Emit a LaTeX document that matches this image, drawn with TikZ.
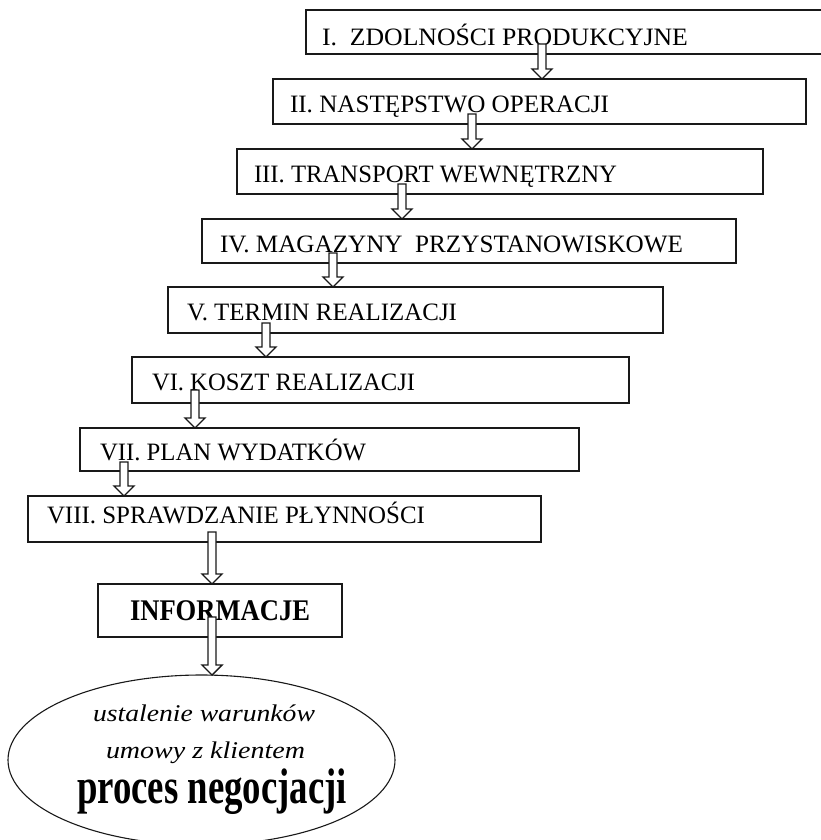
\documentclass[tikz,border=0pt]{standalone}
\usepackage{fontspec}
\setmainfont{Liberation Serif}
\usetikzlibrary{shapes.geometric,calc}
\newcommand\fitw[2]{\resizebox{#1pt}{\height}{#2}}
% #1 shaft offset above lower edge of upper node, #2 from node, #3 to node, #4 x-coordinate
\newcommand\barrow[4]{%
  \draw[barr] let \p1=([yshift=#1]#2.south -| #4), \p2=(#3.north -| #4) in
    (\x1-4pt,\y1) -- (\x1+4pt,\y1) -- (\x1+4pt,\y2+10pt) -- (\x1+10pt,\y2+10pt)
    -- (\x2,\y2) -- (\x1-10pt,\y2+10pt) -- (\x1-4pt,\y2+10pt) -- cycle;}
\tikzset{
  box/.style={draw=black!90, line width=1.6pt, rectangle, inner sep=0pt, outer sep=0pt, anchor=north west},
  lbl/.style={inner sep=0pt, outer sep=0pt, anchor=base west, font=\fontsize{25}{30}\selectfont},
  barr/.style={draw=black!90, line width=1.4pt, fill=white, line join=miter},
  ell/.style={draw=black!90, line width=1.1pt, ellipse, inner sep=0pt, outer sep=0pt},
}
\begin{document}
\begin{tikzpicture}[x=1pt,y=-1pt]
\useasboundingbox[fill=white] (0,0) rectangle (821,840);
\clip (0,0) rectangle (821,840);
% boxes
\node[box, minimum width=524pt, minimum height=44pt] (b1) at (306,10) {};
\node[box, minimum width=533pt, minimum height=45pt] (b2) at (273,79) {};
\node[box, minimum width=526pt, minimum height=45pt] (b3) at (237,149) {};
\node[box, minimum width=534pt, minimum height=44pt] (b4) at (202,219) {};
\node[box, minimum width=495pt, minimum height=46pt] (b5) at (168,287) {};
\node[box, minimum width=497pt, minimum height=46pt] (b6) at (132,357) {};
\node[box, minimum width=499pt, minimum height=43pt] (b7) at (80,428) {};
\node[box, minimum width=513pt, minimum height=46pt] (b8) at (28,496) {};
\node[box, minimum width=244pt, minimum height=53pt] (b9) at (98,584) {};
\node[ell, minimum width=387pt, minimum height=170pt] (e) at (201.5,760) {};
% texts
\node[lbl] (t1) at (322,46) {\fitw{366}{I.\ \ ZDOLNOŚCI PRODUKCYJNE}};
\node[lbl] (t2) at (290,113) {\fitw{319}{II.\ NASTĘPSTWO OPERACJI}};
\node[lbl] (t3) at (254,182) {\fitw{363}{III. TRANSPORT WEWNĘTRZNY}};
\node[lbl] (t4) at (220,252) {\fitw{463}{IV. MAGAZYNY\ \ PRZYSTANOWISKOWE}};
\node[lbl] (t5) at (187,320) {\fitw{270}{V. TERMIN REALIZACJI}};
\node[lbl] (t6) at (152,390) {\fitw{263}{VI. KOSZT REALIZACJI}};
\node[lbl] (t7) at (100,460) {\fitw{266}{VII. PLAN WYDATKÓW}};
\node[lbl] (t8) at (47,523) {\fitw{378}{VIII. SPRAWDZANIE PŁYNNOŚCI}};
\node[lbl, font=\fontsize{30}{34}\selectfont\bfseries] (t9) at (130,620) {\fitw{180}{INFORMACJE}};
\node[lbl, font=\fontsize{24}{28}\selectfont\itshape] (t10) at (93,721) {\fitw{222}{ustalenie warunków}};
\node[lbl, font=\fontsize{24}{28}\selectfont\itshape] (t11) at (106,758) {\fitw{199}{umowy z klientem}};
\node[lbl, font=\fontsize{50}{56}\selectfont\bfseries] (t12) at (77,803) {\fitw{270}{proces negocjacji}};
% arrow x positions
\coordinate (x1) at (542,0);
\coordinate (x2) at (472,0);
\coordinate (x3) at (402,0);
\coordinate (x4) at (333,0);
\coordinate (x5) at (266,0);
\coordinate (x6) at (195,0);
\coordinate (x7) at (124,0);
\coordinate (x8) at (212,0);
% arrows
\barrow{10pt}{b1}{b2}{x1}
\barrow{10pt}{b2}{b3}{x2}
\barrow{10pt}{b3}{b4}{x3}
\barrow{10pt}{b4}{b5}{x4}
\barrow{10pt}{b5}{b6}{x5}
\barrow{13pt}{b6}{b7}{x6}
\barrow{9pt}{b7}{b8}{x7}
\barrow{10pt}{b8}{b9}{x8}
\barrow{20pt}{b9}{e}{x8}
\end{tikzpicture}
\end{document}
